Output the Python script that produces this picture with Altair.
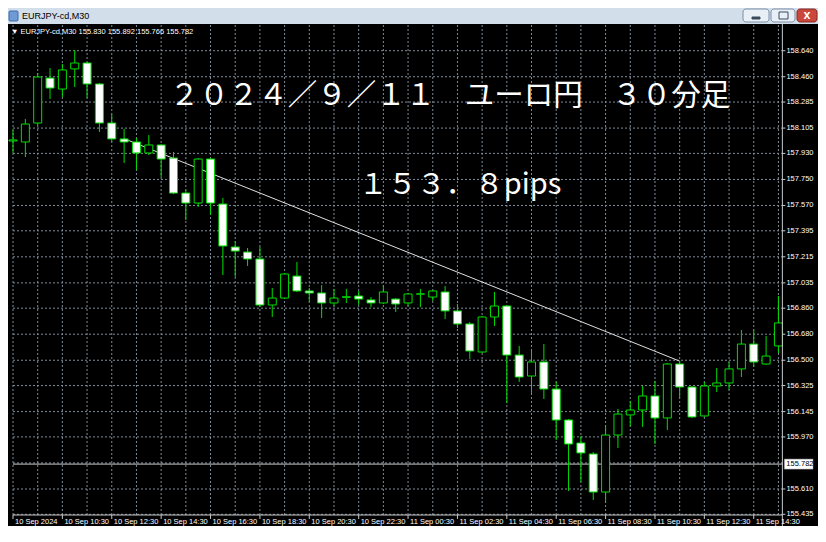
import altair as alt
import pandas as pd

# ---------------- data ----------------
opens = [158.016, 158.009, 158.140, 158.451, 158.375, 158.514, 158.555, 158.410, 158.140, 158.030,
         158.009, 157.933, 157.988, 157.898, 157.656, 157.587, 157.891, 157.580, 157.283, 157.248,
         157.200, 156.882, 156.930, 157.082, 156.979, 156.965, 156.896, 156.935, 156.944, 156.917,
         156.896, 156.923, 156.896, 156.957, 156.937, 156.972, 156.841, 156.751, 156.557, 156.799,
         156.875, 156.536, 156.391, 156.488, 156.301, 156.087, 155.928, 155.852, 155.589, 155.983,
         156.122, 156.156, 156.253, 156.101, 156.474, 156.315, 156.115, 156.322, 156.343, 156.440,
         156.612, 156.474, 156.599]
highs = [158.092, 158.168, 158.486, 158.520, 158.548, 158.645, 158.562, 158.417, 158.202, 158.099,
         158.037, 158.057, 157.995, 157.940, 157.677, 157.898, 157.898, 157.622, 157.324, 157.276,
         157.283, 157.000, 157.103, 157.179, 157.000, 157.020, 156.993, 156.993, 156.979, 156.937,
         157.020, 156.930, 156.965, 156.993, 156.986, 157.013, 156.889, 156.764, 156.806, 156.972,
         156.882, 156.599, 156.578, 156.612, 156.350, 156.094, 155.976, 155.866, 156.052, 156.163,
         156.218, 156.322, 156.357, 156.481, 156.495, 156.322, 156.350, 156.446, 156.488, 156.709,
         156.709, 156.668, 156.944]
lows = [157.933, 157.905, 158.126, 158.306, 158.320, 158.389, 158.313, 158.078, 158.009, 157.864,
        157.815, 157.919, 157.767, 157.649, 157.470, 157.560, 157.504, 157.089, 157.076, 157.152,
        156.868, 156.799, 156.924, 156.972, 156.903, 156.792, 156.875, 156.896, 156.882, 156.868,
        156.889, 156.834, 156.875, 156.868, 156.910, 156.785, 156.723, 156.509, 156.550, 156.737,
        156.204, 156.350, 156.274, 156.232, 155.949, 155.596, 155.658, 155.534, 155.513, 155.893,
        156.045, 156.039, 155.921, 156.018, 156.239, 156.101, 156.108, 156.281, 156.294, 156.384,
        156.453, 156.467, 156.550]
closes = [158.023, 158.133, 158.458, 158.382, 158.507, 158.555, 158.410, 158.140, 158.030, 158.009,
          157.933, 157.988, 157.891, 157.656, 157.587, 157.891, 157.587, 157.290, 157.255, 157.200,
          156.882, 156.930, 157.096, 156.979, 156.965, 156.896, 156.930, 156.939, 156.923, 156.896,
          156.972, 156.889, 156.958, 156.959, 156.979, 156.841, 156.751, 156.564, 156.799, 156.875,
          156.536, 156.384, 156.488, 156.301, 156.087, 155.921, 155.859, 155.589, 155.983, 156.128,
          156.156, 156.253, 156.101, 156.474, 156.315, 156.108, 156.322, 156.343, 156.440, 156.612,
          156.488, 156.529, 156.758]

price_ticks = [158.640, 158.460, 158.285, 158.105, 157.930, 157.750, 157.570, 157.395, 157.215,
               157.035, 156.860, 156.680, 156.500, 156.325, 156.145, 155.970, 155.610, 155.435]
hidden_grid_tick = [155.790]
time_tick_idx = [0, 4, 8, 12, 16, 20, 24, 28, 32, 36, 40, 44, 48, 52, 56, 60]
time_tick_labels = ["10 Sep 2024", "10 Sep 10:30", "10 Sep 12:30", "10 Sep 14:30", "10 Sep 16:30",
                    "10 Sep 18:30", "10 Sep 20:30", "10 Sep 22:30", "11 Sep 00:30", "11 Sep 02:30",
                    "11 Sep 04:30", "11 Sep 06:30", "11 Sep 08:30", "11 Sep 10:30", "11 Sep 12:30",
                    "11 Sep 14:30"]
trend_idx = [9, 54]
trend_price = [158.032, 156.494]
last_price = 155.782
header_text = "\u25BC EURJPY-cd,M30  155.830 155.892 155.766 155.782"
window_title = "EURJPY-cd,M30"
title_text = "２０２４／９／１１　ユーロ円　３０分足"
pips_text = "１５３．８pips"

# ---------------- scales / layout ----------------
W, H = 810, 502
X_MIN, X_MAX = 0.0, 64.8
GRID_RIGHT = 62.32
Y_MIN, Y_MAX = 155.3541, 158.8246
GRID_BOTTOM = 155.4302
PX_X = (X_MAX - X_MIN) / W      # index units per pixel
PX_Y = (Y_MAX - Y_MIN) / H      # price units per pixel

xs = alt.Scale(domain=[X_MIN, X_MAX], nice=False, zero=False)
ys = alt.Scale(domain=[Y_MIN, Y_MAX], nice=False, zero=False)

GREEN = "#00dd00"
GRID = "#7f8c99"
AXIS_C = "#c8c8c8"
FONT = "Liberation Sans"
LBL = 7.5


def X(f):
    return alt.X(f, scale=xs, axis=None)


def Y(f):
    return alt.Y(f, scale=ys, axis=None)


df = pd.DataFrame({"idx": list(range(len(opens))), "open": opens, "high": highs,
                   "low": lows, "close": closes})
df["bull"] = df["close"] >= df["open"]

hgrid_df = pd.DataFrame({"p": price_ticks + hidden_grid_tick, "x0": X_MIN, "x1": GRID_RIGHT})
vgrid_df = pd.DataFrame({"k": list(range(0, 63, 2)), "y0": GRID_BOTTOM, "y1": Y_MAX})

hgrid = alt.Chart(hgrid_df).mark_rule(color=GRID, strokeDash=[2, 2], strokeWidth=1).encode(
    x=X("x0:Q"), x2="x1:Q", y=Y("p:Q"))
vgrid = alt.Chart(vgrid_df).mark_rule(color=GRID, strokeDash=[2, 2], strokeWidth=1).encode(
    x=X("k:Q"), y=Y("y0:Q"), y2="y1:Q")

price_line = alt.Chart(pd.DataFrame({"p": [last_price], "x0": X_MIN, "x1": GRID_RIGHT})).mark_rule(
    color="#c8c8c8", strokeWidth=1).encode(x=X("x0:Q"), x2="x1:Q", y=Y("p:Q"))

trend = alt.Chart(pd.DataFrame({"k": trend_idx, "p": trend_price})).mark_line(
    color="#e0e0e0", strokeWidth=1).encode(x=X("k:Q"), y=Y("p:Q"))

wicks = alt.Chart(df).mark_rule(color=GREEN, strokeWidth=1).encode(
    x=X("idx:Q"), y=Y("low:Q"), y2="high:Q")

bodies = alt.Chart(df).mark_bar(size=8, stroke=GREEN, strokeWidth=1).encode(
    x=X("idx:Q"), y=Y("open:Q"), y2="close:Q",
    fill=alt.condition("datum.bull", alt.value("black"), alt.value("white")))

border_v = alt.Chart(pd.DataFrame({"k": [GRID_RIGHT], "y0": [Y_MIN], "y1": [Y_MAX]})).mark_rule(
    color=AXIS_C, strokeWidth=1).encode(x=X("k:Q"), y=Y("y0:Q"), y2="y1:Q")
border_h = alt.Chart(pd.DataFrame({"p": [GRID_BOTTOM], "x0": [X_MIN], "x1": [GRID_RIGHT]})).mark_rule(
    color=AXIS_C, strokeWidth=1).encode(x=X("x0:Q"), x2="x1:Q", y=Y("p:Q"))

# price axis (right)
pa_df = pd.DataFrame({"p": price_ticks, "x0": GRID_RIGHT, "x1": GRID_RIGHT + 3 * PX_X,
                      "t": ["%.3f" % v for v in price_ticks]})
p_ticks = alt.Chart(pa_df).mark_rule(color=AXIS_C, strokeWidth=1).encode(
    x=X("x0:Q"), x2="x1:Q", y=Y("p:Q"))
p_labels = alt.Chart(pa_df).mark_text(align="left", baseline="middle", dx=4, font=FONT,
                                      fontSize=LBL, color="white").encode(
    x=X("x0:Q"), y=Y("p:Q"), text="t:N")

# time axis (bottom)
ta_df = pd.DataFrame({"k": time_tick_idx, "t": time_tick_labels,
                      "y0": GRID_BOTTOM, "y1": GRID_BOTTOM - 4 * PX_Y})
t_ticks = alt.Chart(ta_df).mark_rule(color=AXIS_C, strokeWidth=1).encode(
    x=X("k:Q"), y=Y("y0:Q"), y2="y1:Q")
t_labels = alt.Chart(ta_df).mark_text(align="left", baseline="top", dx=2, dy=3, font=FONT,
                                      fontSize=LBL, color="white").encode(
    x=X("k:Q"), y=Y("y0:Q"), text="t:N")

# current price label box
lp_df = pd.DataFrame({"p": [last_price], "p0": [last_price - 5 * PX_Y], "p1": [last_price + 5 * PX_Y],
                      "x0": [GRID_RIGHT + 2 * PX_X], "x1": [X_MAX], "t": ["%.3f" % last_price]})
lp_box = alt.Chart(lp_df).mark_rect(fill="white", stroke="#a0a0a0", strokeWidth=0.5).encode(
    x=X("x0:Q"), x2="x1:Q", y=Y("p0:Q"), y2="p1:Q")
lp_text = alt.Chart(lp_df).mark_text(align="left", baseline="middle", dx=2, font=FONT,
                                     fontSize=LBL, color="black").encode(
    x=X("x0:Q"), y=Y("p:Q"), text="t:N")

one = pd.DataFrame({"a": [0]})


def txt(s, x, y, **kw):
    return alt.Chart(one).mark_text(**kw).encode(x=alt.value(x), y=alt.value(y), text=alt.value(s))


title_mark = txt(title_text, 442, 72, align="center", baseline="middle",
                 font="Noto Sans CJK JP", fontSize=29.5, color="white")
pips_mark = txt(pips_text, 452, 161, align="center", baseline="middle",
                font="Noto Sans CJK JP", fontSize=29, color="white")
header_mark = txt(header_text, 3, 8, align="left", baseline="middle", font=FONT,
                  fontSize=LBL, color="white")
win_title = txt(window_title, 14, -8, align="left", baseline="middle", font=FONT,
                fontSize=9, color="black")


def box(x0, x1, y0, y1, fill, stroke, r=3):
    return alt.Chart(one).mark_rect(fill=fill, stroke=stroke, strokeWidth=1, cornerRadius=r).encode(
        x=alt.value(x0), x2=alt.value(x1), y=alt.value(y0), y2=alt.value(y1))


icon = box(1, 10, -13, -3, "#6f9ad6", "#3f6aa8", 1)
btn_min = box(735, 761, -15, -2, "#e9eff7", "#7d8fa6")
btn_max = box(763, 787, -15, -2, "#e9eff7", "#7d8fa6")
btn_close = box(789, 809, -15, -2, "#c9473b", "#8a2a22")
g_min = box(744, 752, -7, -5, "#3a4a5e", "#3a4a5e", 0)
g_max = box(771, 780, -12, -5, "#e9eff7", "#3a4a5e", 0)
g_close = txt("X", 799, -8, align="center", baseline="middle", font="DejaVu Sans",
              fontSize=9, fontWeight="bold", color="white")

chart = alt.layer(
    hgrid, vgrid, price_line, trend, wicks, bodies, border_v, border_h,
    p_ticks, p_labels, t_ticks, t_labels,
    lp_box, lp_text, title_mark, pips_mark, header_mark,
    icon, win_title, btn_min, btn_max, btn_close, g_min, g_max, g_close
).properties(
    width=W, height=H,
    padding={"left": 0, "top": 16, "right": 0, "bottom": 0},
    autosize=alt.AutoSizeParams(type="none"),
    background="#d3deeb",
).configure_view(fill="black", stroke=None)

chart.save("out.html", embed_options={"renderer": "svg", "actions": False})
